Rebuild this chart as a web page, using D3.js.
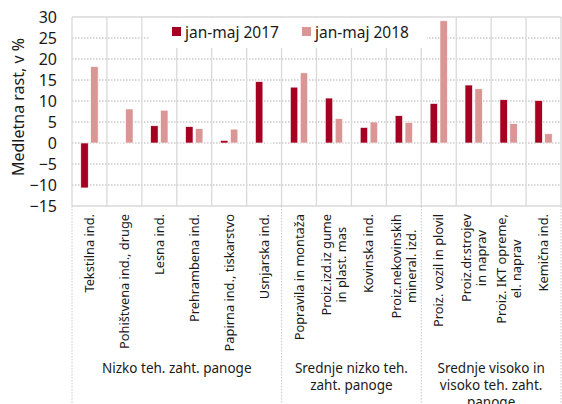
<!DOCTYPE html>
<html>
<head>
<meta charset="utf-8">
<script src="https://cdn.jsdelivr.net/npm/d3@7"></script>
<style>
  body{margin:0;background:#fff;}
  svg{display:block;font-family:"Noto Sans",sans-serif;}
</style>
</head>
<body>
<svg id="chart" width="562" height="404"></svg>
<script>
// data
const categories = [
  ['Tekstilna ind.'], ['Pohištvena ind., druge'], ['Lesna ind.'], ['Prehrambena ind.'],
  ['Papirna ind., tiskarstvo'], ['Usnjarska ind.'],
  ['Popravila in montaža'], ['Proiz.izd.iz gume', 'in plast. mas'], ['Kovinska ind.'],
  ['Proiz.nekovinskih', 'mineral. izd.'],
  ['Proiz. vozil in plovil'], ['Proiz.dr.strojev', 'in naprav'], ['Proiz. IKT opreme,', 'el. naprav'],
  ['Kemična ind.']
];
const val2017 = [-10.7, 0.1, 4.1, 3.9, 0.6, 14.6, 13.3, 10.7, 3.7, 6.5, 9.4, 13.8, 10.3, 10.1];
const val2018 = [18.2, 8.1, 7.8, 3.4, 3.3, 0.1, 16.7, 5.8, 5.0, 4.9, 29.1, 12.9, 4.6, 2.2];
const seriesNames = ['jan-maj 2017', 'jan-maj 2018'];
const colors = ['#a50021', '#d99694'];
const groups = [
  {lines: ['Nizko teh. zaht. panoge'], from: 0, to: 6},
  {lines: ['Srednje nizko teh.', 'zaht. panoge'], from: 6, to: 10},
  {lines: ['Srednje visoko in', 'visoko teh. zaht.', 'panoge'], from: 10, to: 14}
];
const yTicks = d3.range(-15, 31, 5);

const svg = d3.select('#chart');
const m = {left: 72, right: 561, top: 17, bottom: 206};

const x = d3.scaleBand().domain(d3.range(categories.length)).range([m.left, m.right]);
const y = d3.scaleLinear().domain([-15, 30]).range([m.bottom, m.top]);
const xs = d3.scaleBand().domain([0, 1]).range([0, x.bandwidth()]).paddingInner(0.25).paddingOuter(0.89);

// horizontal dotted grid
svg.append('g').selectAll('line').data(yTicks.filter(d => d > -15 && d < 30)).join('line')
  .attr('x1', m.left).attr('x2', m.right)
  .attr('y1', d => y(d)).attr('y2', d => y(d))
  .attr('stroke', '#b0b0b0').attr('stroke-width', 1).attr('stroke-dasharray', '1.5,1.5');

// vertical solid grid
svg.append('g').selectAll('line').data(d3.range(categories.length + 1)).join('line')
  .attr('x1', i => m.left + i * x.step()).attr('x2', i => m.left + i * x.step())
  .attr('y1', m.top).attr('y2', m.bottom)
  .attr('stroke', '#d9d9d9').attr('stroke-width', 1.3);

// frame top/bottom
svg.append('line').attr('x1', m.left).attr('x2', m.right).attr('y1', m.top).attr('y2', m.top)
  .attr('stroke', '#d9d9d9').attr('stroke-width', 1.3);
svg.append('line').attr('x1', m.left).attr('x2', m.right).attr('y1', m.bottom).attr('y2', m.bottom)
  .attr('stroke', '#d9d9d9').attr('stroke-width', 1.3);

// dotted separators in the label area
const sepIdx = [0, 6, 10, 14];
svg.append('g').selectAll('line').data(sepIdx).join('line')
  .attr('x1', i => m.left + i * x.step()).attr('x2', i => m.left + i * x.step())
  .attr('y1', m.bottom).attr('y2', 404)
  .attr('stroke', '#c8c8c8').attr('stroke-dasharray', '1.5,1.5');

// legend (white box hides grid)
const leg = svg.append('g');
leg.append('rect').attr('x', 150).attr('y', 18).attr('width', 277).attr('height', 30).attr('fill', '#fff');
const legX = [172, 302];
seriesNames.forEach((s, k) => {
  leg.append('rect').attr('x', legX[k]).attr('y', 27).attr('width', 9).attr('height', 9).attr('fill', colors[k]);
  leg.append('text').attr('x', legX[k] + 13).attr('y', 37.5).attr('font-size', 15.5).attr('fill', '#1a1a1a').text(s);
});

// bars
const series = [val2017, val2018];
series.forEach((vals, k) => {
  svg.append('g').selectAll('rect').data(vals).join('rect')
    .attr('x', (d, i) => x(i) + xs(k))
    .attr('y', d => y(Math.max(0, d)))
    .attr('width', xs.bandwidth())
    .attr('height', d => Math.abs(y(d) - y(0)))
    .attr('fill', colors[k])
    .attr('stroke', '#fff').attr('stroke-width', 0.6);
});

// y axis labels
const yAxis = d3.axisLeft(y).tickValues(yTicks).tickSize(0).tickPadding(0);
const gy = svg.append('g').attr('transform', 'translate(57,0)').call(yAxis);
gy.select('.domain').remove();
gy.selectAll('text').attr('font-size', 16).attr('fill', '#1a1a1a').attr('font-family', '"Noto Sans",sans-serif');

svg.append('text').attr('transform', 'translate(24,107) rotate(-90)')
  .attr('text-anchor', 'middle').attr('font-size', 16).attr('fill', '#1a1a1a')
  .text('Medletna rast, v %');

// category labels, rotated, top-aligned block with centred lines
const lineGap = 15;
categories.forEach((lines, i) => {
  const cx = x(i) + x.bandwidth() / 2;
  const g = svg.append('g');
  const n = lines.length;
  const tmp = lines.map((l, j) => g.append('text')
    .attr('font-size', 12.8).attr('fill', '#1a1a1a').attr('text-anchor', 'middle').text(l));
  const maxW = d3.max(tmp, t => t.node().getComputedTextLength());
  tmp.forEach((t, j) => {
    const lx = cx + (j - (n - 1) / 2) * lineGap + 4.5;
    const ly = 214 + maxW / 2;
    t.attr('transform', `translate(${lx},${ly}) rotate(-90)`);
  });
});

// group labels
groups.forEach(gr => {
  const cx = m.left + (gr.from + gr.to) / 2 * x.step();
  gr.lines.forEach((l, j) => {
    svg.append('text').attr('x', cx).attr('y', 373 + j * 17)
      .attr('text-anchor', 'middle').attr('font-size', 13.5).attr('fill', '#1a1a1a').text(l);
  });
});
</script>
</body>
</html>
